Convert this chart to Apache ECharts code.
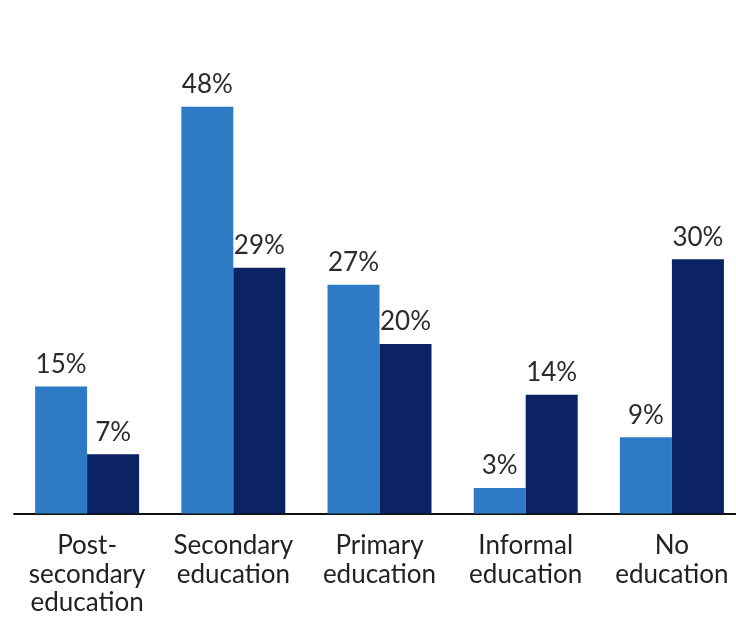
<!DOCTYPE html>
<html>
<head>
<meta charset="utf-8">
<style>
  html, body { margin: 0; padding: 0; background: #ffffff; overflow: hidden; }
  #chart { width: 746px; height: 617px; }
</style>
<script src="https://cdn.jsdelivr.net/npm/echarts@6/dist/echarts.min.js"></script>
</head>
<body>
<div id="chart"></div>
<script>
// Education level shares for two groups
const categories = [
  'Post-\nsecondary\neducation',
  'Secondary\neducation',
  'Primary\neducation',
  'Informal\neducation',
  'No\neducation'
];
const groupA = [15, 48, 27, 3, 9];
const groupB = [7, 29, 20, 14, 30];

const chart = echarts.init(document.getElementById('chart'), null, { renderer: 'canvas' });

const labelStyle = {
  show: true,
  position: 'top',
  distance: 9,
  formatter: '{c}%',
  color: '#2b2b2b',
  fontFamily: 'Lato',
  fontSize: 26
};

chart.setOption({
  animation: false,
  backgroundColor: '#ffffff',
  // the plot runs slightly past the right edge of the visible page
  grid: { left: 14, right: 1, top: 5, bottom: 99, containLabel: false },
  xAxis: {
    type: 'category',
    data: categories,
    axisLine: { show: true, lineStyle: { color: '#111111', width: 2 } },
    axisTick: { show: false },
    axisLabel: {
      color: '#222222',
      fontFamily: 'Lato',
      fontSize: 26,
      lineHeight: 28.5,
      margin: 18,
      interval: 0
    }
  },
  yAxis: {
    type: 'value',
    min: 0,
    max: 60,
    show: false,
    splitLine: { show: false }
  },
  series: [
    {
      type: 'bar',
      data: groupA,
      barWidth: 52,
      barGap: '0%',
      itemStyle: { color: '#2f7ac4' },
      label: labelStyle
    },
    {
      type: 'bar',
      data: groupB,
      barWidth: 52,
      barGap: '0%',
      itemStyle: { color: '#0b2365' },
      label: labelStyle
    }
  ]
});
</script>
</body>
</html>
